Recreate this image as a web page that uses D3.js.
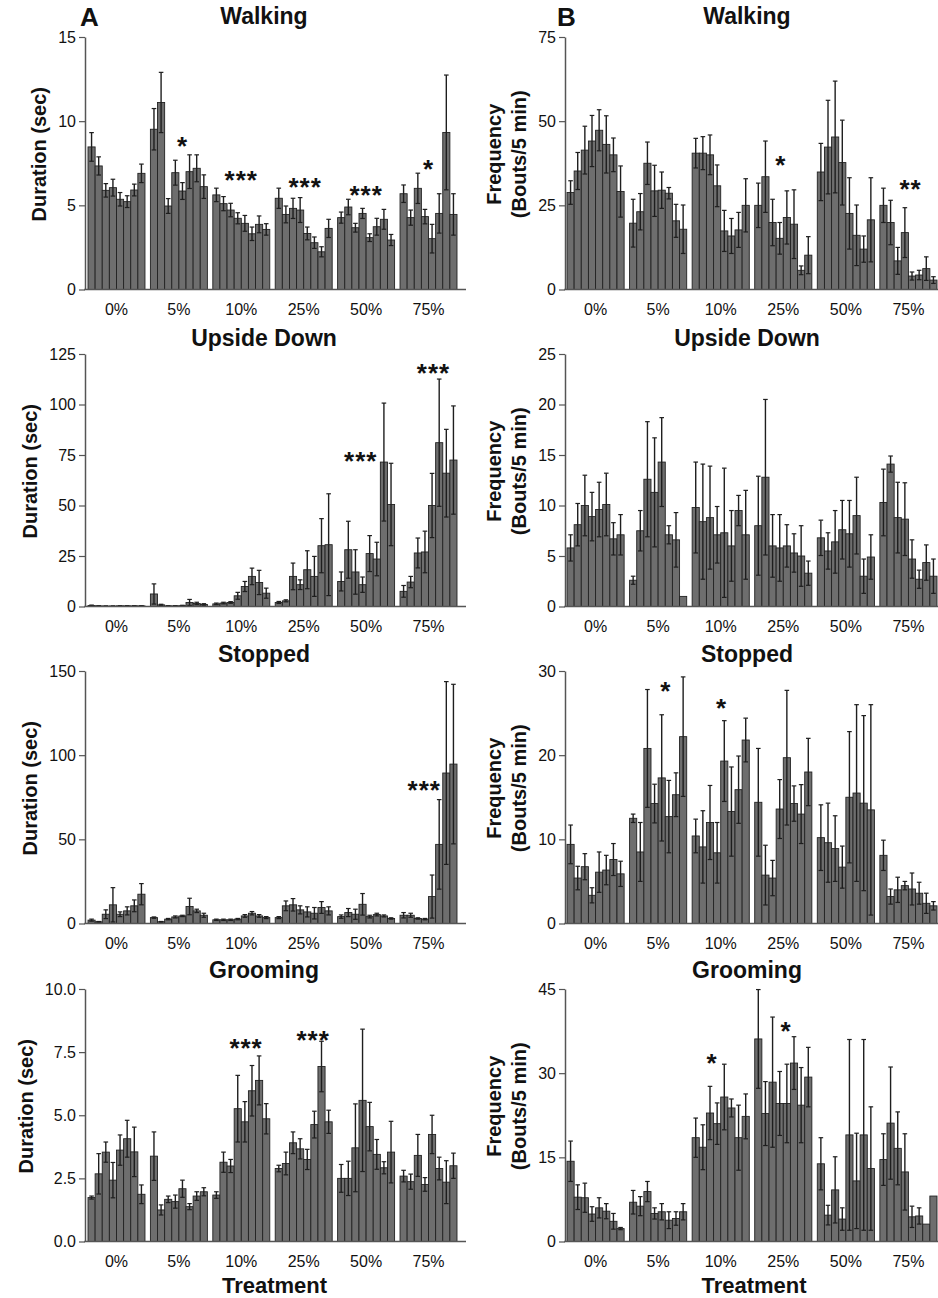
<!DOCTYPE html>
<html>
<head>
<meta charset="utf-8">
<script src="https://cdn.jsdelivr.net/npm/d3@7"></script>
<style>
  body { margin: 0; background: #fff; }
  svg text { font-family: Arial, "Liberation Sans", Helvetica, sans-serif; fill: #111; }
</style>
</head>
<body>
<svg id="fig" width="938" height="1298"></svg>
<script>
// treatment groups, 8 bars in each
const groups = ["0%", "5%", "10%", "25%", "50%", "75%"];

// --- Walking ---
const durWalking = [
  8.47, 7.34, 5.89, 6.05, 5.36, 5.22, 5.91, 6.90,
  9.52, 11.11, 4.96, 6.94, 5.85, 7.00, 7.20, 6.11,
  5.62, 5.10, 4.72, 4.23, 3.93, 3.31, 3.87, 3.57,
  5.42, 4.46, 4.82, 4.72, 3.33, 2.78, 2.24, 3.63,
  4.27, 4.90, 3.67, 4.52, 3.08, 3.73, 4.17, 2.94,
  5.69, 4.27, 6.01, 4.33, 3.02, 4.52, 9.33, 4.46
];
const durWalkingErr = [
  0.85, 0.54, 0.40, 0.50, 0.40, 0.35, 0.35, 0.55,
  1.23, 1.79, 0.44, 0.74, 0.50, 1.00, 0.80, 0.70,
  0.40, 0.42, 0.40, 0.33, 0.47, 0.40, 0.50, 0.34,
  0.60, 0.50, 0.60, 0.74, 0.38, 0.34, 0.30, 0.54,
  0.33, 0.46, 0.26, 0.30, 0.23, 0.50, 0.59, 0.33,
  0.52, 0.45, 0.90, 0.43, 0.85, 1.17, 3.41, 1.23
];
const durWalkingStars = [
  {group: 1, bar: 4, text: "*", y: 8.87},
  {group: 2, bar: 3.5, text: "***", y: 6.85},
  {group: 3, bar: 3.7, text: "***", y: 6.45},
  {group: 4, bar: 3.5, text: "***", y: 5.95},
  {group: 5, bar: 3.5, text: "*", y: 7.54}
];
const freqWalking = [
  28.8, 35.2, 41.4, 44.1, 47.3, 43.1, 40.0, 29.1,
  19.7, 23.1, 37.5, 29.3, 29.5, 28.6, 20.4, 17.9,
  40.5, 40.5, 40.0, 30.8, 17.4, 15.9, 17.7, 25.0,
  25.0, 33.5, 19.9, 15.2, 21.4, 19.4, 5.7, 10.2,
  34.9, 42.3, 45.3, 37.7, 22.6, 16.1, 12.0, 20.7,
  25.0, 19.9, 8.5, 16.9, 4.0, 4.3, 6.2, 2.8
];
const freqWalkingErr = [
  3.5, 5.5, 7.1, 7.6, 6.1, 8.5, 5.0, 7.6,
  7.1, 5.4, 6.3, 7.6, 5.4, 1.7, 4.9, 7.2,
  4.4, 4.9, 5.9, 6.2, 6.1, 5.2, 5.2, 7.9,
  6.6, 10.6, 6.9, 4.7, 7.9, 10.2, 1.3, 5.5,
  8.5, 13.9, 16.6, 12.6, 10.6, 9.0, 3.9, 12.5,
  5.1, 6.6, 4.0, 7.4, 1.2, 1.4, 3.5, 1.0
];
const freqWalkingStars = [
  {group: 3, bar: 3.15, text: "*", y: 38.7},
  {group: 5, bar: 3.8, text: "**", y: 31.8}
];

// --- Upside Down ---
const durUpside = [
  0.5, 0.3, 0.2, 0.2, 0.3, 0.3, 0.3, 0.3,
  6.2, 0.8, 0.3, 0.3, 0.4, 2.0, 1.5, 1.0,
  1.3, 1.7, 2.0, 5.3, 9.9, 14.9, 11.9, 6.6,
  2.0, 2.8, 14.9, 10.8, 18.2, 14.9, 30.1, 30.6,
  12.4, 28.1, 17.1, 10.8, 26.2, 23.5, 71.5, 50.5,
  7.5, 12.1, 26.5, 27.0, 50.0, 81.1, 66.0, 72.5
];
const durUpsideErr = [
  0.2, 0.1, 0.1, 0.1, 0.1, 0.1, 0.1, 0.1,
  5.0, 0.3, 0.1, 0.1, 0.2, 1.5, 0.6, 0.4,
  0.4, 0.4, 0.4, 1.7, 2.5, 4.1, 6.0, 2.5,
  0.5, 0.5, 6.6, 2.4, 9.4, 9.9, 13.4, 25.2,
  4.7, 14.1, 11.0, 3.8, 8.9, 8.3, 29.2, 20.4,
  2.9, 2.8, 7.4, 10.3, 15.9, 31.5, 21.7, 26.8
];
const durUpsideStars = [
  {group: 4, bar: 2.75, text: "***", y: 74.8},
  {group: 5, bar: 4.2, text: "***", y: 118.4}
];
const freqUpside = [
  5.8, 8.1, 10.0, 8.9, 9.6, 10.1, 6.7, 7.1,
  2.6, 7.5, 12.6, 11.3, 14.3, 7.1, 6.6, 1.0,
  9.8, 8.4, 8.8, 7.1, 7.3, 6.0, 9.5, 7.1,
  8.0, 12.8, 6.0, 5.8, 6.0, 5.3, 5.0, 3.3,
  6.8, 5.5, 6.4, 7.6, 7.2, 9.0, 3.0, 4.9,
  10.3, 14.1, 8.8, 8.65, 4.7, 2.7, 4.35, 3.0
];
const freqUpsideErr = [
  1.3, 2.1, 3.0, 2.4, 2.7, 3.1, 1.6, 2.0,
  0.4, 2.0, 5.7, 5.4, 4.4, 0.9, 2.7, 0,
  4.5, 5.7, 5.1, 2.8, 6.4, 3.5, 1.5, 4.4,
  4.9, 7.7, 3.1, 3.3, 2.1, 1.9, 3.0, 1.2,
  1.75, 1.8, 3.1, 2.9, 3.3, 3.8, 1.7, 2.2,
  3.3, 0.8, 3.5, 3.6, 1.9, 0.9, 1.75, 1.7
];
const freqUpsideStars = [];

// --- Stopped ---
const durStopped = [
  2.0, 1.0, 5.5, 11.1, 5.5, 7.5, 10.5, 17.4,
  3.5, 1.0, 2.6, 3.9, 4.5, 10.1, 7.5, 4.9,
  2.2, 2.2, 2.2, 2.6, 4.5, 6.1, 4.5, 3.5,
  3.5, 10.5, 11.1, 8.1, 6.9, 6.1, 9.5, 7.5,
  4.1, 6.5, 5.5, 11.4, 4.1, 5.3, 4.5, 3.0,
  4.9, 4.9, 3.0, 2.6, 16.0, 47.0, 89.4, 94.7
];
const durStoppedErr = [
  0.6, 0.2, 2.6, 10.2, 1.4, 2.4, 3.5, 6.3,
  0.4, 0.2, 0.4, 0.6, 0.4, 4.9, 1.0, 1.2,
  0.4, 0.4, 0.4, 0.4, 0.8, 1.0, 0.8, 0.6,
  0.6, 2.9, 3.7, 2.4, 3.0, 3.4, 3.5, 2.4,
  1.0, 2.4, 3.0, 6.4, 0.8, 0.8, 0.6, 0.4,
  1.6, 1.2, 0.4, 0.4, 12.8, 26.6, 54.3, 47.4
];
const durStoppedStars = [
  {group: 5, bar: 2.9, text: "***", y: 83.1}
];
const freqStopped = [
  9.4, 5.4, 6.75, 3.35, 6.1, 6.35, 7.6, 5.9,
  12.5, 8.5, 20.8, 14.25, 17.3, 12.7, 15.3, 22.2,
  10.4, 9.1, 12.0, 8.4, 19.3, 13.3, 15.9, 21.8,
  14.4, 5.75, 5.4, 13.6, 19.7, 14.25, 13.0, 18.0,
  10.2, 9.6, 8.9, 6.7, 15.0, 15.5, 14.3, 13.5,
  8.1, 3.2, 4.0, 4.5, 4.1, 3.6, 2.4, 2.1
];
const freqStoppedErr = [
  2.3, 1.4, 1.55, 0.9, 2.4, 1.75, 1.9, 1.5,
  0.5, 3.5, 7.0, 2.3, 7.5, 4.3, 2.6, 7.1,
  2.0, 4.3, 4.4, 3.6, 4.8, 5.3, 4.0, 2.6,
  6.4, 3.55, 2.1, 3.5, 8.0, 2.1, 3.5, 4.0,
  3.9, 4.7, 3.9, 2.5, 7.8, 10.5, 10.4, 12.5,
  1.8, 0.9, 1.5, 0.5, 1.9, 1.3, 1.2, 0.5
];
const freqStoppedStars = [
  {group: 1, bar: 4.57, text: "*", y: 28.3},
  {group: 2, bar: 3.62, text: "*", y: 26.3}
];

// --- Grooming ---
const durGrooming = [
  1.74, 2.68, 3.54, 2.43, 3.62, 4.07, 3.55, 1.87,
  3.38, 1.25, 1.67, 1.58, 2.09, 1.38, 1.80, 1.97,
  1.84, 3.14, 2.99, 5.26, 4.74, 5.97, 6.38, 4.86,
  2.89, 3.09, 3.91, 3.67, 3.25, 4.63, 6.93, 4.74,
  2.50, 2.50, 3.71, 5.59, 4.55, 3.45, 2.92, 3.54,
  2.59, 2.37, 3.41, 2.26, 4.24, 2.89, 2.35, 3.00
];
const durGroomingErr = [
  0.06, 0.80, 0.40, 0.70, 0.60, 0.73, 0.98, 0.37,
  0.96, 0.20, 0.13, 0.26, 0.34, 0.12, 0.17, 0.16,
  0.13, 0.40, 0.26, 1.32, 0.80, 1.00, 0.97, 0.60,
  0.13, 0.45, 0.43, 0.40, 0.40, 0.53, 1.00, 0.46,
  0.55, 0.68, 1.74, 2.82, 0.96, 0.59, 0.24, 1.22,
  0.23, 0.30, 0.83, 0.27, 0.76, 0.45, 0.85, 0.50
];
const durGroomingStars = [
  {group: 2, bar: 4.17, text: "***", y: 7.9},
  {group: 3, bar: 4.83, text: "***", y: 8.22}
];
const freqGrooming = [
  14.3, 7.9, 7.8, 4.9, 6.0, 5.4, 3.6, 2.3,
  7.0, 6.3, 8.9, 5.0, 5.3, 3.8, 4.1, 5.3,
  18.5, 16.8, 22.9, 21.0, 25.75, 23.8, 18.5, 22.3,
  36.1, 22.8, 28.4, 24.6, 24.6, 31.8, 24.3, 29.3,
  13.85, 4.7, 9.2, 4.0, 19.0, 10.8, 19.0, 13.0,
  14.6, 21.1, 16.6, 12.4, 4.4, 4.55, 3.1, 8.1
];
const freqGroomingErr = [
  3.6, 2.2, 2.6, 1.3, 1.8, 1.35, 1.4, 0.2,
  2.1, 1.7, 1.8, 1.0, 1.45, 1.5, 1.2, 1.45,
  3.5, 4.0, 4.75, 3.7, 5.85, 1.6, 5.8, 4.0,
  8.8, 5.7, 11.6, 5.7, 7.0, 4.7, 6.7, 5.3,
  4.65, 1.75, 5.9, 2.0, 17.0, 8.5, 17.0, 11.0,
  4.6, 10.0, 6.5, 6.8, 1.9, 1.45, 0, 0
];
const freqGroomingStars = [
  {group: 2, bar: 2.3, text: "*", y: 32.9},
  {group: 3, bar: 3.9, text: "*", y: 38.6}
];

// y ticks for each panel
const ticksDurWalking = [0, 5, 10, 15];
const ticksFreqWalking = [0, 25, 50, 75];
const ticksDurUpside = [0, 25, 50, 75, 100, 125];
const ticksFreqUpside = [0, 5, 10, 15, 20, 25];
const ticksDurStopped = [0, 50, 100, 150];
const ticksFreqStopped = [0, 10, 20, 30];
const ticksDurGrooming = [0, 2.5, 5, 7.5, 10];
const ticksFreqGrooming = [0, 15, 30, 45];

const panels = [
  {col: 0, row: 0, title: "Walking", mean: durWalking, err: durWalkingErr, ticks: ticksDurWalking, stars: durWalkingStars},
  {col: 1, row: 0, title: "Walking", mean: freqWalking, err: freqWalkingErr, ticks: ticksFreqWalking, stars: freqWalkingStars},
  {col: 0, row: 1, title: "Upside Down", mean: durUpside, err: durUpsideErr, ticks: ticksDurUpside, stars: durUpsideStars},
  {col: 1, row: 1, title: "Upside Down", mean: freqUpside, err: freqUpsideErr, ticks: ticksFreqUpside, stars: freqUpsideStars},
  {col: 0, row: 2, title: "Stopped", mean: durStopped, err: durStoppedErr, ticks: ticksDurStopped, stars: durStoppedStars},
  {col: 1, row: 2, title: "Stopped", mean: freqStopped, err: freqStoppedErr, ticks: ticksFreqStopped, stars: freqStoppedStars},
  {col: 0, row: 3, title: "Grooming", mean: durGrooming, err: durGroomingErr, ticks: ticksDurGrooming, stars: durGroomingStars, fmt: d3.format(".1f")},
  {col: 1, row: 3, title: "Grooming", mean: freqGrooming, err: freqGroomingErr, ticks: ticksFreqGrooming, stars: freqGroomingStars}
];

// layout
const colLayout = [
  {axisX: 85, x0: 88, x1: 457, xEnd: 466, titleX: 264, letter: "A", letterX: 80},
  {axisX: 565, x0: 567, x1: 937, xEnd: 938, titleX: 747, letter: "B", letterX: 557}
];
const rowTop = [37, 354, 671, 989];
const rowH = 252.5;
const titleY = [24, 346, 662, 978];

const axisColor = "#555";
const svg = d3.select("#fig");

panels.forEach(drawPanel);

// panel letters and bottom axis titles
colLayout.forEach(c => {
  svg.append("text")
    .attr("x", c.letterX).attr("y", 26)
    .attr("font-size", 26).attr("font-weight", "bold")
    .text(c.letter);
  svg.append("text")
    .attr("x", (c.x0 + c.x1) / 2 + 2).attr("y", 1293)
    .attr("text-anchor", "middle")
    .attr("font-size", 22).attr("font-weight", "bold")
    .text("Treatment");
});

function drawPanel(p) {
  const c = colLayout[p.col];
  const top = rowTop[p.row], bottom = top + rowH;
  const g = svg.append("g");

  const y = d3.scaleLinear().domain([0, d3.max(p.ticks)]).range([bottom, top]);
  const xg = d3.scaleBand().domain(groups).range([c.x0, c.x1]).paddingInner(0.087);
  const xb = d3.scaleBand().domain(d3.range(8)).range([0, xg.bandwidth()]);
  const bw = xb.bandwidth();

  const rows = p.mean.map((v, i) => ({grp: groups[Math.floor(i / 8)], b: i % 8, v: v, e: p.err[i]}));

  // bars
  g.selectAll("rect.bar").data(rows).join("rect")
    .attr("class", "bar")
    .attr("x", d => xg(d.grp) + xb(d.b))
    .attr("width", bw)
    .attr("y", d => y(d.v))
    .attr("height", d => y(0) - y(d.v))
    .attr("fill", "#6e6e6e")
    .attr("stroke", "#222")
    .attr("stroke-width", 0.9);

  // error bars (mean ± SE)
  const withErr = rows.filter(d => d.e > 0);
  const cx = d => xg(d.grp) + xb(d.b) + bw / 2;
  g.selectAll("line.err").data(withErr).join("line")
    .attr("class", "err")
    .attr("x1", cx).attr("x2", cx)
    .attr("y1", d => y(Math.max(0, d.v - d.e)))
    .attr("y2", d => y(d.v + d.e))
    .attr("stroke", "#1e1e1e").attr("stroke-width", 1.4);
  g.selectAll("line.capT").data(withErr).join("line")
    .attr("class", "capT")
    .attr("x1", d => cx(d) - 2.3).attr("x2", d => cx(d) + 2.3)
    .attr("y1", d => y(d.v + d.e)).attr("y2", d => y(d.v + d.e))
    .attr("stroke", "#1e1e1e").attr("stroke-width", 1.2);
  g.selectAll("line.capB").data(withErr).join("line")
    .attr("class", "capB")
    .attr("x1", d => cx(d) - 2.3).attr("x2", d => cx(d) + 2.3)
    .attr("y1", d => y(Math.max(0, d.v - d.e))).attr("y2", d => y(Math.max(0, d.v - d.e)))
    .attr("stroke", "#1e1e1e").attr("stroke-width", 1.2);

  // y axis
  const yAxis = g.append("g")
    .attr("transform", `translate(${c.axisX},0)`)
    .call(d3.axisLeft(y).tickValues(p.ticks).tickFormat(p.fmt || d3.format("d"))
      .tickSize(6).tickPadding(3).tickSizeOuter(0));
  yAxis.select(".domain").attr("stroke", axisColor).attr("stroke-width", 1.5);
  yAxis.selectAll(".tick line").attr("stroke", axisColor).attr("stroke-width", 1.2);
  yAxis.selectAll(".tick text")
    .attr("font-size", 16).attr("fill", "#222")
    .attr("font-family", "Arial, 'Liberation Sans', sans-serif");

  // x axis line and group labels
  g.append("line")
    .attr("x1", c.axisX - 0.75).attr("x2", c.xEnd)
    .attr("y1", y(0)).attr("y2", y(0))
    .attr("stroke", axisColor).attr("stroke-width", 1.5);
  g.selectAll("text.grp").data(groups).join("text")
    .attr("class", "grp")
    .attr("x", d => xg(d) + xg.bandwidth() / 2)
    .attr("y", y(0) + 25)
    .attr("text-anchor", "middle")
    .attr("font-size", 16)
    .attr("fill", "#222")
    .text(d => d);

  // significance marks
  const starSize = 26;
  g.selectAll("text.star").data(p.stars).join("text")
    .attr("class", "star")
    .attr("x", d => xg(groups[d.group]) + (d.bar + 0.5) * bw)
    .attr("y", d => y(d.y) + starSize * 0.58)
    .attr("text-anchor", "middle")
    .attr("font-size", starSize).attr("font-weight", "bold")
    .attr("letter-spacing", 1)
    .text(d => d.text);

  // title
  g.append("text")
    .attr("x", c.titleX).attr("y", titleY[p.row])
    .attr("text-anchor", "middle")
    .attr("font-size", 23).attr("font-weight", "bold")
    .text(p.title);

  // y label, placed left of the tick labels
  const bb = yAxis.node().getBBox();
  const leftEdge = c.axisX + bb.x;
  const midY = (top + bottom) / 2 - 9;
  const lines = p.col === 0 ? ["Duration (sec)"] : ["Frequency", "(Bouts/5 min)"];
  const spacing = 25;
  lines.forEach((t, i) => {
    const lx = leftEdge - 19 - (lines.length - 1 - i) * spacing;
    g.append("text")
      .attr("transform", `translate(${lx},${midY}) rotate(-90)`)
      .attr("text-anchor", "middle")
      .attr("dominant-baseline", "central")
      .attr("font-size", 20).attr("font-weight", "bold")
      .text(t);
  });
}
</script>
</body>
</html>
